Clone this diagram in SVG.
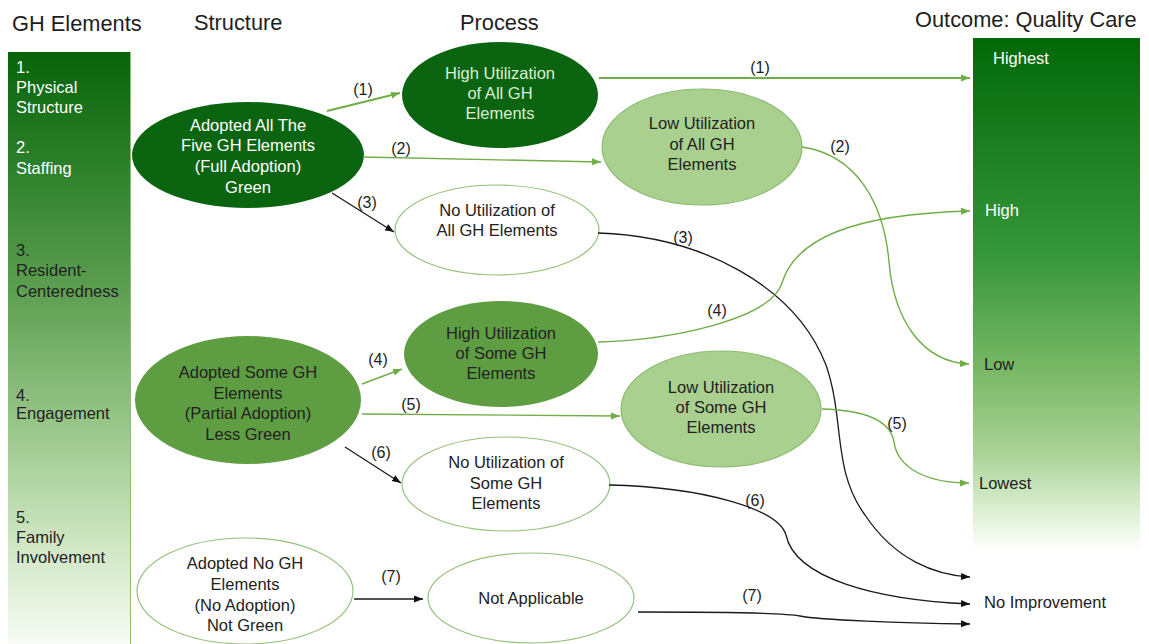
<svg xmlns="http://www.w3.org/2000/svg" width="1149" height="644" viewBox="0 0 1149 644">
  <defs>
    <linearGradient id="barLeft" x1="0" y1="0" x2="0" y2="1">
      <stop offset="0" stop-color="#086409"/>
      <stop offset="0.2" stop-color="#2f812c"/>
      <stop offset="0.4" stop-color="#5e9f52"/>
      <stop offset="0.62" stop-color="#98c689"/>
      <stop offset="0.82" stop-color="#cfe6c3"/>
      <stop offset="1" stop-color="#fbfdf9"/>
    </linearGradient>
    <linearGradient id="barRight" x1="0" y1="0" x2="0" y2="1">
      <stop offset="0" stop-color="#026808"/>
      <stop offset="0.42" stop-color="#36963a"/>
      <stop offset="0.65" stop-color="#7ab866"/>
      <stop offset="0.82" stop-color="#add49a"/>
      <stop offset="0.92" stop-color="#dbeed2"/>
      <stop offset="1" stop-color="#ffffff"/>
    </linearGradient>
    <marker id="arrGreen" markerWidth="10" markerHeight="8" refX="9" refY="4" orient="auto" markerUnits="userSpaceOnUse">
      <path d="M0,0.5 L9,4 L0,7.5 z" fill="#70ad47"/>
    </marker>
    <marker id="arrBlack" markerWidth="10" markerHeight="8" refX="9" refY="4" orient="auto" markerUnits="userSpaceOnUse">
      <path d="M0,0.5 L9,4 L0,7.5 z" fill="#111111"/>
    </marker>
  </defs>
  <style>
    text { font-family: "Liberation Sans", Arial, sans-serif; }
    .title { font-size: 21.8px; fill: #1e1e1e; }
    .body { font-size: 16.5px; fill: #222222; }
    .light { fill: #ffffff; }
    .pale { fill: #dcefd3; }
    .mid { text-anchor: middle; }
    .lbl { font-size: 16px; fill: #1e1e1e; text-anchor: middle; }
    .dark { fill: #0b640f; }
    .medium { fill: #5f9d43; }
    .soft { fill: #a9d08f; stroke: #8cbc70; stroke-width: 1.2; }
    .open { fill: #ffffff; stroke: #94c27a; stroke-width: 1.2; }
    .g { fill: none; stroke: #70ad47; stroke-width: 1.4; marker-end: url(#arrGreen); }
    .g2 { fill: none; stroke: #70ad47; stroke-width: 2; marker-end: url(#arrGreen); }
    .k { fill: none; stroke: #1a1a1a; stroke-width: 1.3; marker-end: url(#arrBlack); }
  </style>

  <rect width="1149" height="644" fill="#ffffff"/>

  <!-- column headings -->
  <g id="headings">
    <text class="title" x="12" y="31">GH Elements</text>
    <text class="title" x="194" y="30">Structure</text>
    <text class="title" x="460" y="30">Process</text>
    <text class="title" x="915" y="27">Outcome: Quality Care</text>
  </g>

  <!-- GH elements bar -->
  <g id="gh-elements">
    <rect x="8" y="52" width="122" height="600" fill="url(#barLeft)"/>
    <line x1="130.5" y1="52" x2="130.5" y2="644" stroke="#8fbf77" stroke-width="1"/>
    <text class="body light" x="16" y="73">1.</text>
    <text class="body light" x="16" y="93">Physical</text>
    <text class="body light" x="16" y="113">Structure</text>
    <text class="body light" x="16" y="153">2.</text>
    <text class="body light" x="16" y="174">Staffing</text>
    <text class="body" x="16" y="256">3.</text>
    <text class="body" x="16" y="276">Resident-</text>
    <text class="body" x="16" y="297">Centeredness</text>
    <text class="body" x="16" y="401">4.</text>
    <text class="body" x="16" y="419">Engagement</text>
    <text class="body" x="16" y="523">5.</text>
    <text class="body" x="16" y="543">Family</text>
    <text class="body" x="16" y="563">Involvement</text>
  </g>

  <!-- outcome bar -->
  <g id="outcome">
    <rect x="973" y="38" width="167" height="512" fill="url(#barRight)"/>
    <text class="body light" x="993" y="64">Highest</text>
    <text class="body light" x="985" y="216">High</text>
    <text class="body" x="984" y="370">Low</text>
    <text class="body" x="979" y="489">Lowest</text>
    <text class="body" x="984" y="608">No Improvement</text>
  </g>

  <!-- structure nodes -->
  <g id="full-adoption">
    <ellipse class="dark" cx="248" cy="155" rx="116" ry="53"/>
    <text class="body light mid" x="248" y="131">Adopted All The</text>
    <text class="body light mid" x="248" y="151">Five GH Elements</text>
    <text class="body light mid" x="248" y="172">(Full Adoption)</text>
    <text class="body light mid" x="248" y="193">Green</text>
  </g>
  <g id="partial-adoption">
    <ellipse class="medium" cx="248" cy="400" rx="113" ry="64"/>
    <text class="body mid" x="248" y="378">Adopted Some GH</text>
    <text class="body mid" x="248" y="399">Elements</text>
    <text class="body mid" x="248" y="419">(Partial Adoption)</text>
    <text class="body mid" x="248" y="440">Less Green</text>
  </g>
  <g id="no-adoption">
    <ellipse class="open" cx="245" cy="591" rx="108" ry="53"/>
    <text class="body mid" x="245" y="569">Adopted No GH</text>
    <text class="body mid" x="245" y="590">Elements</text>
    <text class="body mid" x="245" y="611">(No Adoption)</text>
    <text class="body mid" x="245" y="631">Not Green</text>
  </g>

  <!-- process nodes -->
  <g id="high-all">
    <ellipse class="dark" cx="500" cy="95" rx="98" ry="53"/>
    <text class="body pale mid" x="500" y="79">High Utilization</text>
    <text class="body pale mid" x="500" y="99">of All GH</text>
    <text class="body pale mid" x="500" y="119">Elements</text>
  </g>
  <g id="low-all">
    <ellipse class="soft" cx="702" cy="147" rx="100" ry="58"/>
    <text class="body mid" x="702" y="129">Low Utilization</text>
    <text class="body mid" x="702" y="150">of All GH</text>
    <text class="body mid" x="702" y="170">Elements</text>
  </g>
  <g id="none-all">
    <ellipse class="open" cx="497" cy="230" rx="102" ry="45"/>
    <text class="body mid" x="497" y="216">No Utilization of</text>
    <text class="body mid" x="497" y="236">All GH Elements</text>
  </g>
  <g id="high-some">
    <ellipse class="medium" cx="501" cy="354" rx="97" ry="53"/>
    <text class="body mid" x="501" y="339">High Utilization</text>
    <text class="body mid" x="501" y="359">of Some GH</text>
    <text class="body mid" x="501" y="379">Elements</text>
  </g>
  <g id="low-some">
    <ellipse class="soft" cx="721" cy="409" rx="100" ry="58"/>
    <text class="body mid" x="721" y="393">Low Utilization</text>
    <text class="body mid" x="721" y="413">of Some GH</text>
    <text class="body mid" x="721" y="433">Elements</text>
  </g>
  <g id="none-some">
    <ellipse class="open" cx="506" cy="484" rx="104" ry="47"/>
    <text class="body mid" x="506" y="468">No Utilization of</text>
    <text class="body mid" x="506" y="489">Some GH</text>
    <text class="body mid" x="506" y="509">Elements</text>
  </g>
  <g id="not-applicable">
    <ellipse class="open" cx="531" cy="598" rx="103" ry="45"/>
    <text class="body mid" x="531" y="604">Not Applicable</text>
  </g>

  <!-- connectors -->
  <g id="connectors">
    <path class="g2" d="M327,111 L400,93"/>
    <path class="g" d="M363,157 L601,162"/>
    <path class="k" d="M332,193 L394,232"/>
    <path class="g2" d="M599,78 L970,78"/>
    <path class="g" d="M802,147 C858,155 884,205 889,262 C894,320 922,362 969,364"/>
    <path class="k" d="M598,233 C700,236 795,285 826,365 C845,420 832,470 865,515 C895,560 935,575 970,577"/>
    <path class="g" d="M598,342 C670,340 770,320 782,283 C795,240 850,214 970,211"/>
    <path class="g" d="M822,409 C860,410 890,418 894,442 C898,470 930,483 969,483"/>
    <path class="g" d="M362,384 L402,369"/>
    <path class="g" d="M362,414 L620,416"/>
    <path class="k" d="M345,447 L401,483"/>
    <path class="k" d="M609,485 C700,487 778,508 786,535 C795,578 875,600 970,604"/>
    <path class="k" d="M354,599 L423,599"/>
    <path class="k" d="M638,612 C700,612 780,612 800,616 C820,620 900,623 970,624"/>

    <text class="lbl" x="363" y="95">(1)</text>
    <text class="lbl" x="401" y="154">(2)</text>
    <text class="lbl" x="367" y="208">(3)</text>
    <text class="lbl" x="760" y="73">(1)</text>
    <text class="lbl" x="840" y="152">(2)</text>
    <text class="lbl" x="683" y="243">(3)</text>
    <text class="lbl" x="378" y="365">(4)</text>
    <text class="lbl" x="717" y="316">(4)</text>
    <text class="lbl" x="411" y="410">(5)</text>
    <text class="lbl" x="897" y="429">(5)</text>
    <text class="lbl" x="381" y="458">(6)</text>
    <text class="lbl" x="755" y="506">(6)</text>
    <text class="lbl" x="391" y="582">(7)</text>
    <text class="lbl" x="752" y="601">(7)</text>
  </g>
</svg>
